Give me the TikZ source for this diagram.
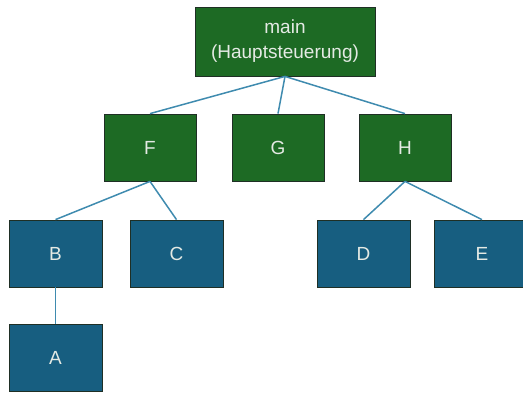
\documentclass[tikz,border=0pt]{standalone}
\usepackage{fontspec}
\setmainfont{Liberation Sans}
\definecolor{boxgreen}{HTML}{1D6A24}
\definecolor{boxblue}{HTML}{175E80}
\definecolor{boxedge}{HTML}{1F2F25}
\definecolor{linkcol}{HTML}{3F8BAF}
\definecolor{labelcol}{HTML}{E4EAE4}
\begin{document}
\begin{tikzpicture}[x=1pt,y=-1pt,
  box/.style={draw=boxedge, line width=0.8pt, text=labelcol,
    font=\fontsize{19}{25}\selectfont, align=center, inner sep=0pt},
  greenbox/.style={box, fill=boxgreen, minimum width=92pt, minimum height=67pt},
  bluebox/.style={box, fill=boxblue, minimum width=93pt, minimum height=67pt},
  link/.style={draw=linkcol, line width=1.5pt}]
  \useasboundingbox (0,0) rectangle (523,392);
  \clip (0,0) rectangle (523,392);
  % root
  \node[greenbox, minimum width=180pt, minimum height=69pt] (main) at (285,41.5) {main\\(Hauptsteuerung)};
  % second level
  \node[greenbox] (F) at (150,147.5) {F};
  \node[greenbox] (G) at (278,147.5) {G};
  \node[greenbox] (H) at (405,147.5) {H};
  % third level
  \node[bluebox] (B) at (55.5,253.5) {B};
  \node[bluebox] (C) at (176.5,253.5) {C};
  \node[bluebox] (D) at (363.5,253.5) {D};
  \node[bluebox, minimum width=96pt] (E) at (482,253.5) {E};
  % fourth level
  \node[bluebox] (A) at (55.5,358) {A};
  % connectors
  \draw[link] (main.south) -- (F.north);
  \draw[link] (main.south) -- (G.north);
  \draw[link] (main.south) -- (H.north);
  \draw[link] (F.south) -- (B.north);
  \draw[link] (F.south) -- (C.north);
  \draw[link] (H.south) -- (D.north);
  \draw[link] (H.south) -- (E.north);
  \draw[link] (B.south) -- (A.north);
\end{tikzpicture}
\end{document}
